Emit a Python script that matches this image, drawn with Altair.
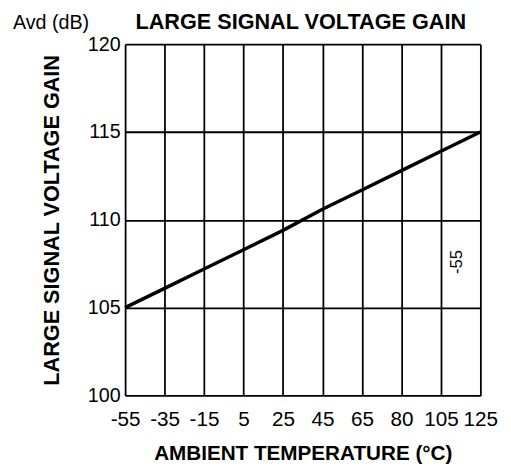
import altair as alt
import pandas as pd

# Data
temps = [-55, -35, -15, 5, 25, 45, 65, 85, 105, 125]
gain = [105.0, 106.1, 107.2, 108.3, 109.4, 110.6, 111.7, 112.8, 113.9, 115.0]

x_tick_values = [-55, -35, -15, 5, 25, 45, 65, 85, 105, 125]
x_tick_labels = ["-55", "-35", "-15", "5", "25", "45", "65", "80", "105", "125"]
y_tick_values = [100, 105, 110, 115, 120]

note_text = ["-55"]
note_x = [113]
note_y = [107.6]

title_text = "LARGE SIGNAL VOLTAGE GAIN"
unit_text = "Avd (dB)"

FONT = "Liberation Sans"
W, H = 361, 357

df = pd.DataFrame({"temp": temps, "gain": gain})
notes = pd.DataFrame({"x": note_x, "y": note_y, "t": note_text})

vals_js = "[" + ",".join(str(v) for v in x_tick_values) + "]"
labs_js = "[" + ",".join("'" + s + "'" for s in x_tick_labels) + "]"
label_expr = f"{labs_js}[indexof({vals_js}, datum.value)]"

x_scale = alt.Scale(domain=[-55, 125], nice=False, zero=False)
y_scale = alt.Scale(domain=[100, 120], nice=False, zero=False)

common_axis = dict(
    ticks=False,
    domain=False,
    grid=True,
    gridColor="black",
    gridWidth=1.8,
    gridOpacity=1,
    labelColor="black",
    titleColor="black",
    labelFont=FONT,
    titleFont=FONT,
    labelFlush=False,
    titleFontWeight="bold",
)

x_enc = alt.X(
    "temp:Q",
    scale=x_scale,
    axis=alt.Axis(
        values=x_tick_values,
        labelExpr=label_expr,
        title="AMBIENT TEMPERATURE (°C)",
        titleFontSize=21,
        titlePadding=13,
        labelFontSize=21,
        labelPadding=14,
        **common_axis,
    ),
)
y_enc = alt.Y(
    "gain:Q",
    scale=y_scale,
    axis=alt.Axis(
        values=y_tick_values,
        title="LARGE SIGNAL VOLTAGE GAIN",
        titleFontSize=22,
        titlePadding=24,
        labelFontSize=20,
        labelPadding=5,
        **common_axis,
    ),
)

line = alt.Chart(df).mark_line(color="black", strokeWidth=3.5).encode(x=x_enc, y=y_enc)

note = alt.Chart(notes).mark_text(
    angle=270, fontSize=17, font=FONT, color="black", align="center", baseline="middle"
).encode(
    x=alt.X("x:Q", scale=x_scale),
    y=alt.Y("y:Q", scale=y_scale),
    text="t:N",
)

unit = alt.Chart(pd.DataFrame({"t": [unit_text]})).mark_text(
    fontSize=20, font=FONT, color="black", align="left", baseline="alphabetic"
).encode(
    x=alt.value(-114),
    y=alt.value(-15),
    text="t:N",
)

title = alt.Chart(pd.DataFrame({"t": [title_text]})).mark_text(
    fontSize=22, font=FONT, fontWeight="bold", color="black", align="center", baseline="alphabetic"
).encode(
    x=alt.value(W / 2 - 2),
    y=alt.value(-15),
    text="t:N",
)

chart = (
    alt.layer(line, note, unit, title)
    .properties(
        width=W,
        height=H,
        padding={"left": 5, "top": 0, "right": 5, "bottom": 5},
    )
    .configure_view(stroke="black", strokeWidth=2)
    .configure(background="white")
)

chart.save("out.html", embed_options={"renderer": "svg", "actions": False})
